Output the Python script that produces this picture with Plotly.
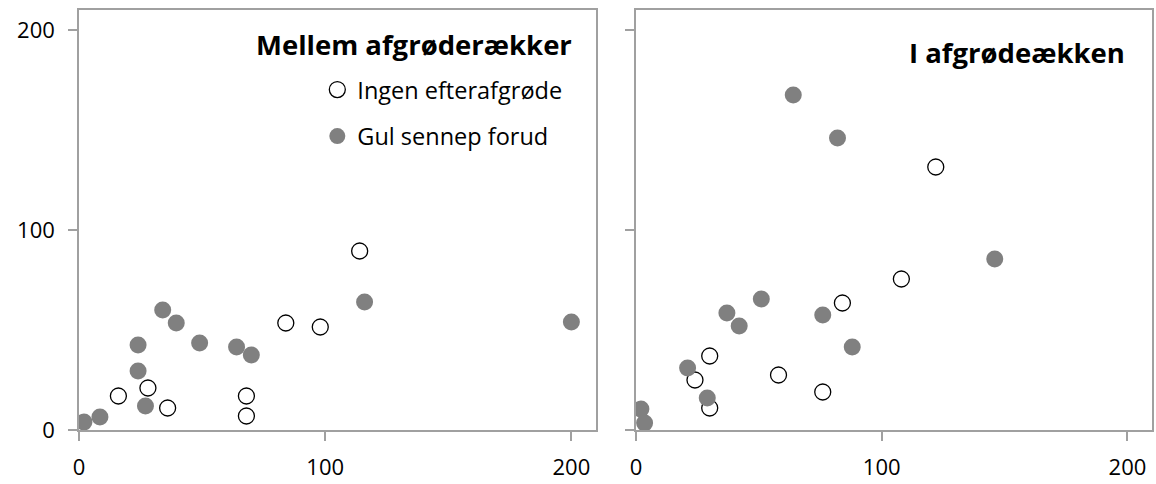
import plotly.graph_objects as go

# Mellem afgrøderækker (left panel)
left_open_x = [16, 28, 36, 68, 68, 84, 98, 114]
left_open_y = [17, 21, 11, 17, 7, 53.5, 51.5, 89.5]
left_filled_x = [2, 8.5, 24, 24, 27, 34, 39.5, 49, 64, 70, 116, 200]
left_filled_y = [4, 6.5, 42.5, 29.5, 12, 60, 53.5, 43.5, 41.5, 37.5, 64, 54]

# I afgrødeækken (right panel)
right_open_x = [24, 30, 30, 58, 76, 84, 108, 122]
right_open_y = [25, 37, 11, 27.5, 19, 63.5, 75.5, 131.5]
right_filled_x = [2, 3.5, 21, 29, 37, 42, 51, 64, 76, 82, 88, 146]
right_filled_y = [10.5, 3.5, 31, 16, 58.5, 52, 65.5, 167.5, 57.5, 146, 41.5, 85.5]

series_names = ["Ingen efterafgrøde", "Gul sennep forud"]
panel_titles = ["Mellem afgrøderækker", "I afgrødeækken"]
tick_vals = [0, 100, 200]

FONT = "Open Sans"
GREY = "#808080"
AXIS = "#a0a0a0"

open_marker = dict(symbol="circle", size=16, color="white",
                   line=dict(color="black", width=1.3))
filled_marker = dict(symbol="circle", size=17, color=GREY,
                     line=dict(width=0))

fig = go.Figure()
fig.add_trace(go.Scatter(x=left_open_x, y=left_open_y, mode="markers",
                         marker=open_marker, name=series_names[0],
                         legendgroup="a", xaxis="x", yaxis="y"))
fig.add_trace(go.Scatter(x=left_filled_x, y=left_filled_y, mode="markers",
                         marker=filled_marker, name=series_names[1],
                         legendgroup="b", xaxis="x", yaxis="y"))
fig.add_trace(go.Scatter(x=right_open_x, y=right_open_y, mode="markers",
                         marker=open_marker, name=series_names[0],
                         showlegend=False, xaxis="x2", yaxis="y2"))
fig.add_trace(go.Scatter(x=right_filled_x, y=right_filled_y, mode="markers",
                         marker=filled_marker, name=series_names[1],
                         showlegend=False, xaxis="x2", yaxis="y2"))

W, H = 1156, 484
ydom = [1 - 430 / H, 1 - 10 / H]

axis_common = dict(range=[0, 210], tickvals=tick_vals, showgrid=False,
                   zeroline=False, showline=True, linecolor=AXIS, linewidth=1.5,
                   mirror=True, ticks="outside", ticklen=9, tickcolor=AXIS,
                   tickwidth=1.5, tickfont=dict(family=FONT, size=22, color="black"))

fig.update_layout(
    width=W, height=H,
    margin=dict(l=0, r=0, t=0, b=0, autoexpand=False),
    paper_bgcolor="white", plot_bgcolor="white",
    xaxis=dict(domain=[79 / W, 596 / W], anchor="y", ticklabelstandoff=8, **axis_common),
    yaxis=dict(domain=ydom, anchor="x", ticklabelstandoff=9, **axis_common),
    xaxis2=dict(domain=[636 / W, 1152 / W], anchor="y2", ticklabelstandoff=8, **axis_common),
    yaxis2=dict(domain=ydom, anchor="x2", showticklabels=False, **axis_common),
    legend=dict(x=0.2745, y=0.86, xanchor="left", yanchor="top",
                bgcolor="rgba(0,0,0,0)", traceorder="grouped", tracegroupgap=13,
                font=dict(family=FONT, size=23.5, color="black"),
                itemsizing="trace"),
    showlegend=True,
)

fig.add_annotation(text="<b>" + panel_titles[0] + "</b>", xref="x", yref="y",
                   x=201, y=193, xanchor="right", yanchor="middle", showarrow=False,
                   font=dict(family=FONT, size=27.5, color="black"))
fig.add_annotation(text="<b>" + panel_titles[1] + "</b>", xref="x2", yref="y2",
                   x=200, y=189, xanchor="right", yanchor="middle", showarrow=False,
                   font=dict(family=FONT, size=27.5, color="black"))

fig.write_html("out.html")
